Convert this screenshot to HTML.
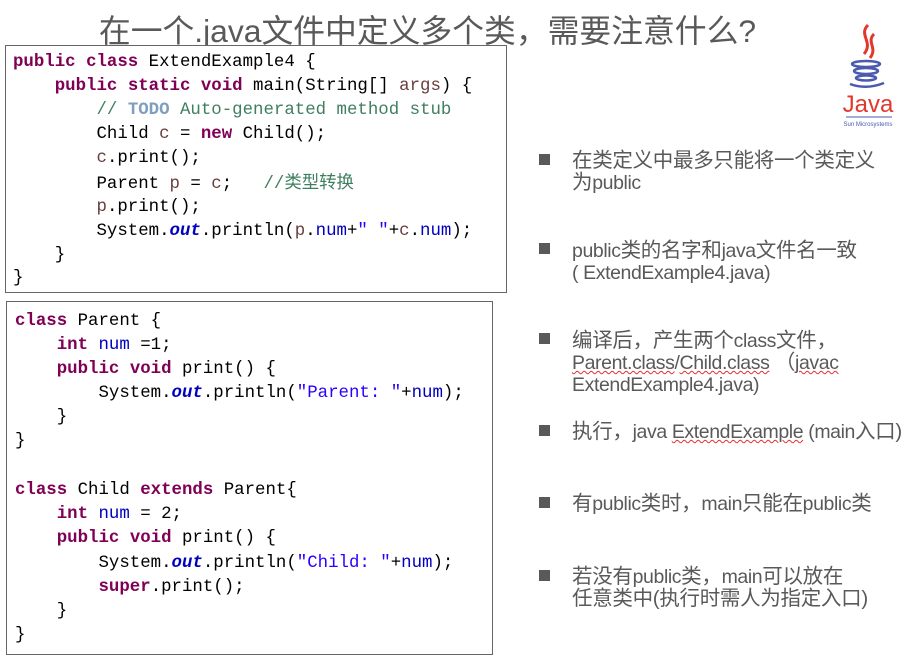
<!DOCTYPE html>
<html><head><meta charset="utf-8"><style>
body{margin:0;width:914px;height:660px;background:#fff;position:relative;overflow:hidden;font-family:"Liberation Sans","Noto Sans CJK SC",sans-serif}
.t{position:absolute;left:0;width:855px;text-align:center;top:6px;font-size:31.8px;color:#595959;white-space:nowrap}
.box{position:absolute;border:1px solid #666;background:#fff}
.c{position:absolute;font-family:"Liberation Mono","Noto Sans CJK SC",monospace;font-size:17.4px;color:#000;white-space:pre;line-height:20px}
.k{color:#7f0055;font-weight:bold}.v{color:#6a3e3e}.g{color:#3f7f5f}.td{color:#7f9fbf;font-weight:bold}.f{color:#0000c0}.o{color:#0000c0;font-weight:bold;font-style:italic}.s{color:#2a00ff}
.b{position:absolute;left:572px;font-size:20.5px;color:#595959;white-space:nowrap;line-height:22px;letter-spacing:-0.3px}
.l{font-size:19.5px;letter-spacing:-0.4px}
.sq{position:absolute;left:539px;width:11px;height:11px;background:#595959}
.u{text-decoration:underline wavy #e03030;text-decoration-thickness:1px}
</style></head><body>
<div class="t">在一个.java文件中定义多个类，需要注意什么?</div>
<svg style="position:absolute;left:830px;top:20px" width="75" height="110" viewBox="0 0 75 110">
<path d="M38 5 C28 15 44 22 34 34 M44 14 C36 22 48 28 40 38" stroke="#e2382c" stroke-width="3" fill="none"/>
<ellipse cx="36" cy="44" rx="14" ry="3" fill="none" stroke="#4a5ab0" stroke-width="2.5"/>
<ellipse cx="36" cy="51" rx="12" ry="3" fill="none" stroke="#4a5ab0" stroke-width="2.5"/>
<ellipse cx="36" cy="58" rx="10" ry="2.5" fill="none" stroke="#4a5ab0" stroke-width="2.5"/>
<path d="M20 64 Q36 70 54 63" stroke="#4a5ab0" stroke-width="2.5" fill="none"/>
<text x="38" y="92" text-anchor="middle" font-family="Liberation Sans" font-size="24" fill="#e2382c">Java</text>
<line x1="16" y1="97" x2="62" y2="97" stroke="#4a5ab0" stroke-width="1"/>
<text x="38" y="106" text-anchor="middle" font-family="Liberation Sans" font-size="6" fill="#4a5ab0">Sun Microsystems</text>
</svg>
<div class="box" style="left:5px;top:45px;width:500px;height:246px"></div>
<div class="box" style="left:6px;top:301px;width:485px;height:352px"></div>
<div class="c" style="left:13px;top:53px"><span class="k">public</span> <span class="k">class</span> ExtendExample4 {</div>
<div class="c" style="left:13px;top:77px">    <span class="k">public</span> <span class="k">static</span> <span class="k">void</span> main(String[] <span class="v">args</span>) {</div>
<div class="c" style="left:13px;top:101px">        <span class="g">// </span><span class="td">TODO</span><span class="g"> Auto-generated method stub</span></div>
<div class="c" style="left:13px;top:125px">        Child <span class="v">c</span> = <span class="k">new</span> Child();</div>
<div class="c" style="left:13px;top:149px">        <span class="v">c</span>.print();</div>
<div class="c" style="left:13px;top:175px">        Parent <span class="v">p</span> = <span class="v">c</span>;   <span class="g">//类型转换</span></div>
<div class="c" style="left:13px;top:198px">        <span class="v">p</span>.print();</div>
<div class="c" style="left:13px;top:222px">        System.<span class="o">out</span>.println(<span class="v">p</span>.<span class="f">num</span>+<span class="s">" "</span>+<span class="v">c</span>.<span class="f">num</span>);</div>
<div class="c" style="left:13px;top:246px">    }</div>
<div class="c" style="left:13px;top:269px">}</div>

<div class="c" style="left:15px;top:312px"><span class="k">class</span> Parent {</div>
<div class="c" style="left:15px;top:336px">    <span class="k">int</span> <span class="f">num</span> =1;</div>
<div class="c" style="left:15px;top:360px">    <span class="k">public</span> <span class="k">void</span> print() {</div>
<div class="c" style="left:15px;top:384px">        System.<span class="o">out</span>.println(<span class="s">"Parent: "</span>+<span class="f">num</span>);</div>
<div class="c" style="left:15px;top:408px">    }</div>
<div class="c" style="left:15px;top:432px">}</div>
<div class="c" style="left:15px;top:481px"><span class="k">class</span> Child <span class="k">extends</span> Parent{</div>
<div class="c" style="left:15px;top:505px">    <span class="k">int</span> <span class="f">num</span> = 2;</div>
<div class="c" style="left:15px;top:529px">    <span class="k">public</span> <span class="k">void</span> print() {</div>
<div class="c" style="left:15px;top:554px">        System.<span class="o">out</span>.println(<span class="s">"Child: "</span>+<span class="f">num</span>);</div>
<div class="c" style="left:15px;top:578px">        <span class="k">super</span>.print();</div>
<div class="c" style="left:15px;top:602px">    }</div>
<div class="c" style="left:15px;top:626px">}</div>

<div class="sq" style="top:154px"></div>
<div class="b" style="top:150px">在类定义中最多只能将一个类定义<br>为<span class="l">public</span></div>
<div class="sq" style="top:243px"></div>
<div class="b" style="top:240px"><span class="l">public</span>类的名字和<span class="l">java</span>文件名一致<br><span class="l">( ExtendExample4.java)</span></div>
<div class="sq" style="top:333px"></div>
<div class="b" style="top:330px">编译后，产生两个<span class="l">class</span>文件，<br><span class="l"><span class="u">Parent.class</span>/<span class="u">Child.class</span></span> （<span class="l u">javac</span><br><span class="l">ExtendExample4.java)</span></div>
<div class="sq" style="top:425px"></div>
<div class="b" style="top:421px">执行，<span class="l">java <span class="u">ExtendExample</span> (main</span>入口)</div>
<div class="sq" style="top:497px"></div>
<div class="b" style="top:493px">有<span class="l">public</span>类时，<span class="l">main</span>只能在<span class="l">public</span>类</div>
<div class="sq" style="top:570px"></div>
<div class="b" style="top:566px">若没有<span class="l">public</span>类，<span class="l">main</span>可以放在<br>任意类中(执行时需人为指定入口)</div>
</body></html>
